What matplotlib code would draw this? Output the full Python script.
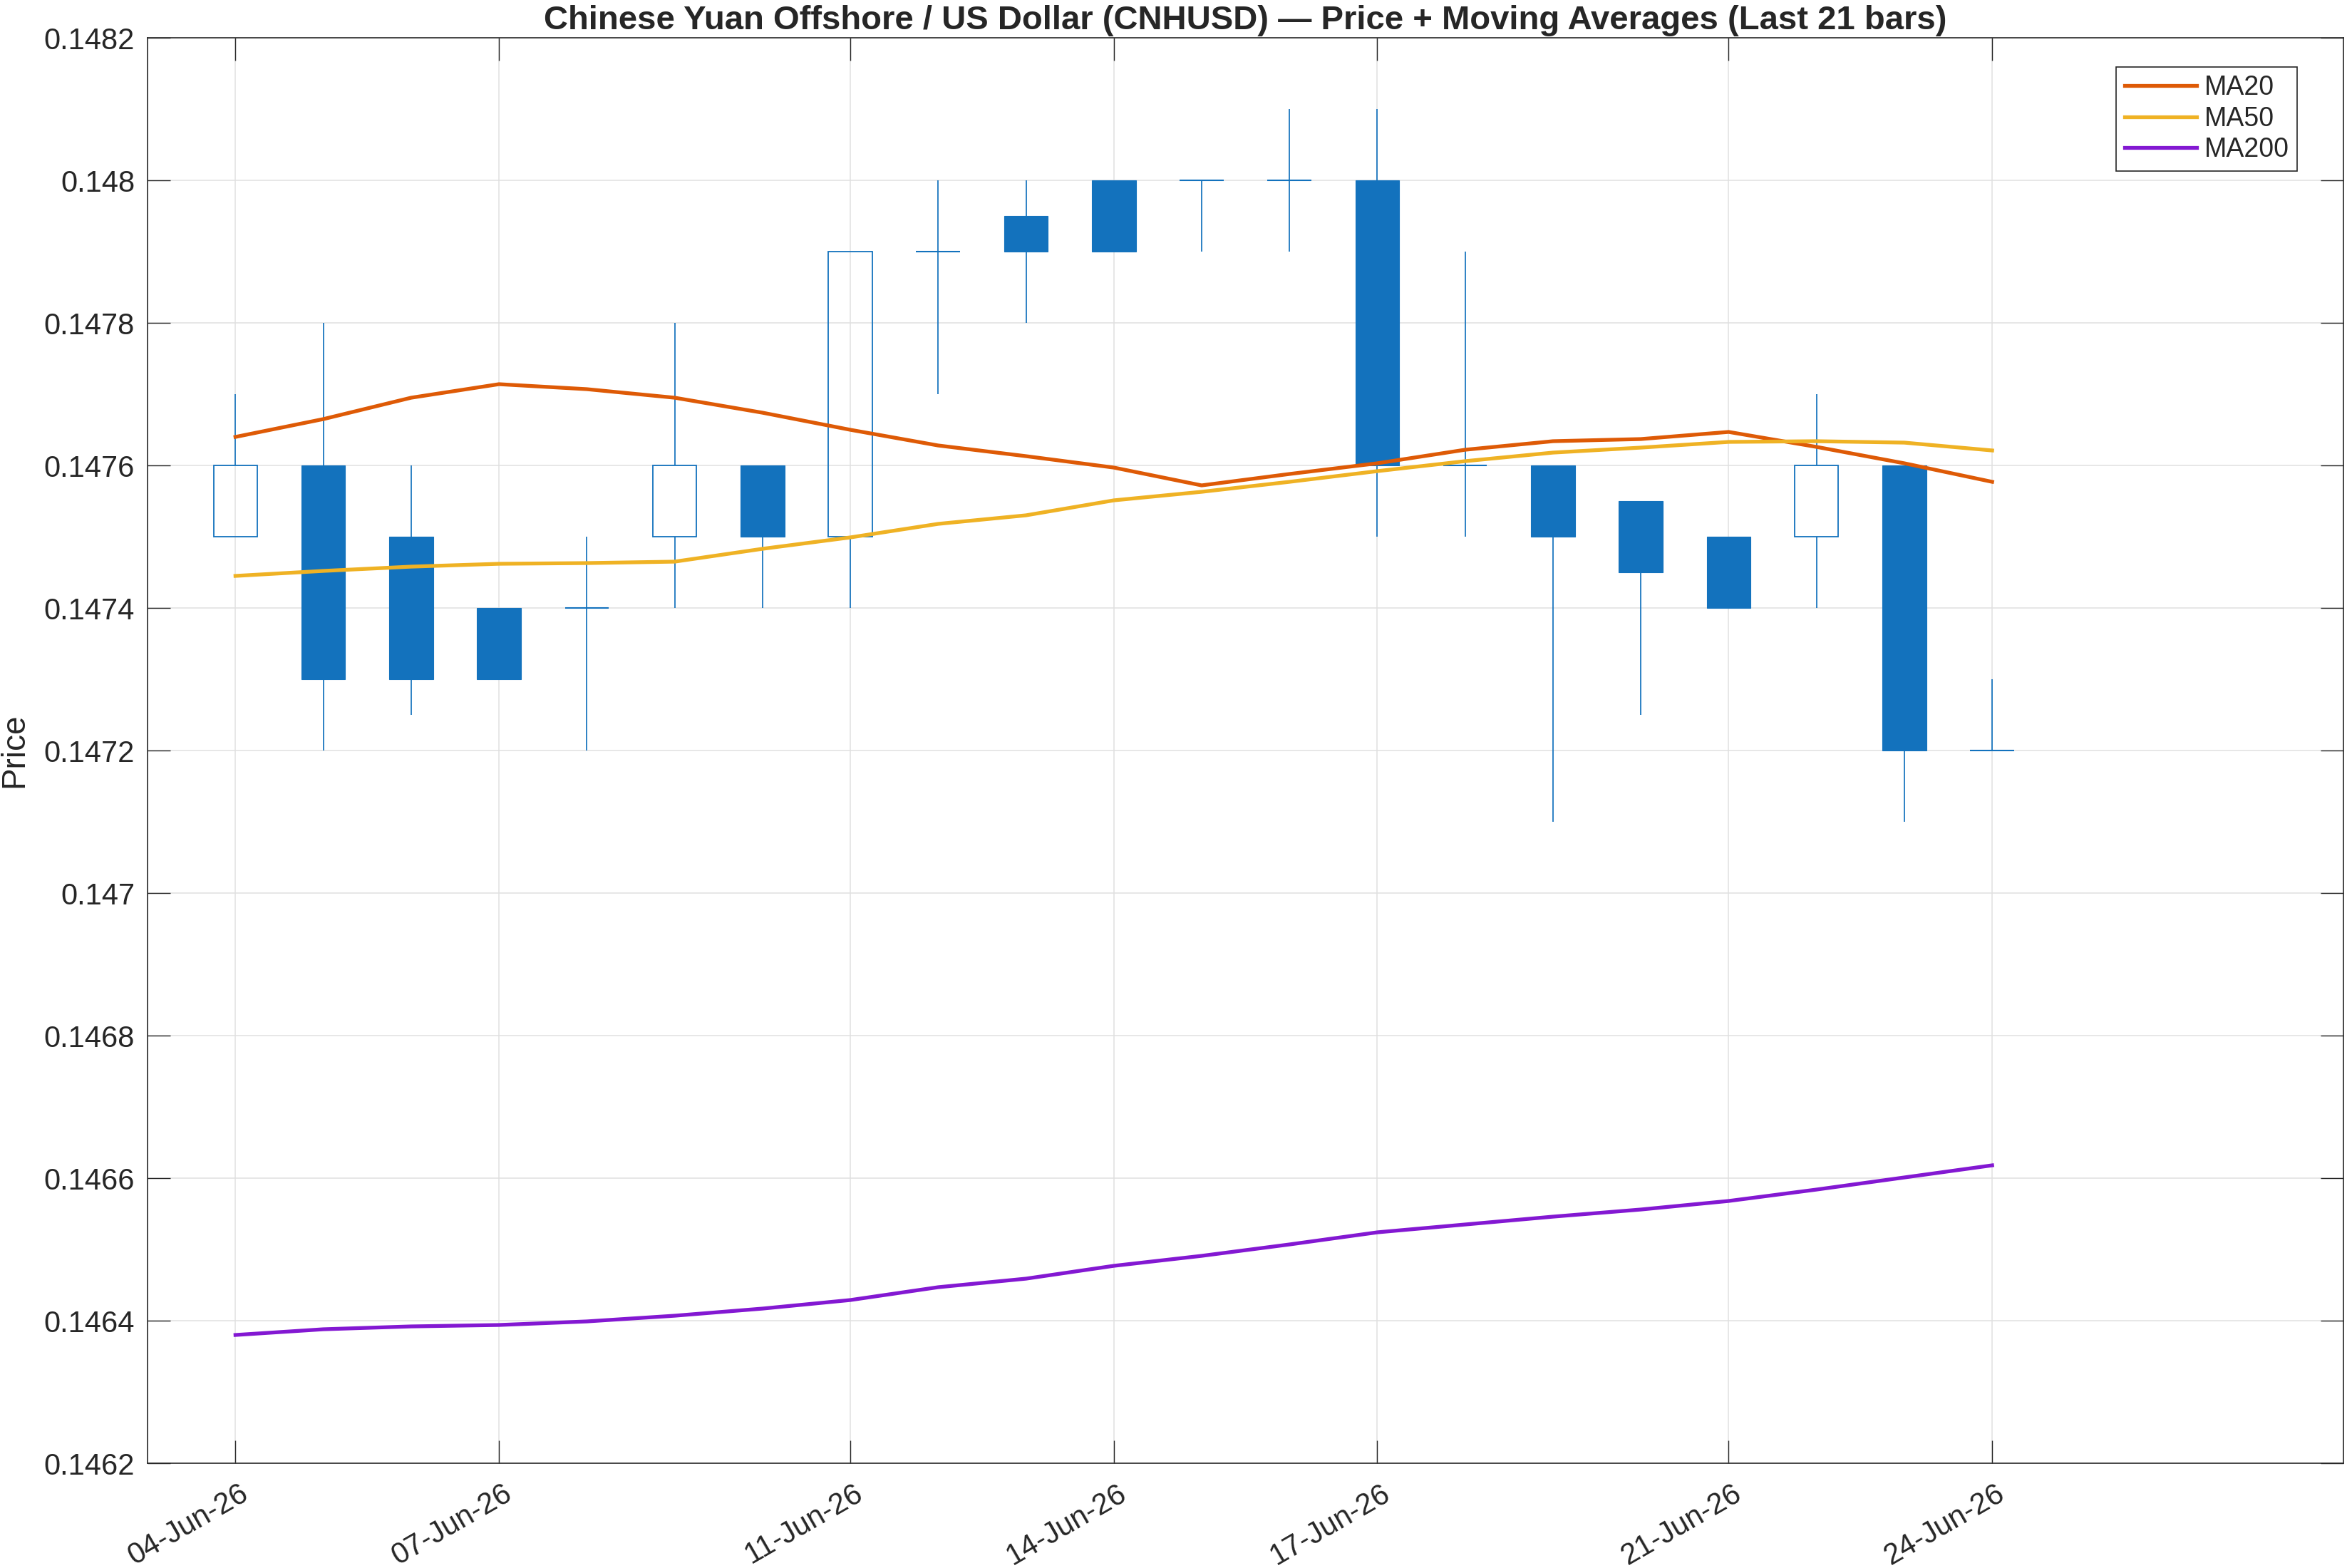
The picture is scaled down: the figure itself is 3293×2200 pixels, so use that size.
import numpy as np
import matplotlib
matplotlib.use("Agg")
import matplotlib.pyplot as plt
import matplotlib.dates as mdates
import matplotlib.transforms as mtransforms

# datos
fechas = ["2026-06-04", "2026-06-05", "2026-06-06", "2026-06-07", "2026-06-08",
          "2026-06-09", "2026-06-10", "2026-06-11", "2026-06-12", "2026-06-13",
          "2026-06-14", "2026-06-15", "2026-06-16", "2026-06-17", "2026-06-18",
          "2026-06-19", "2026-06-20", "2026-06-21", "2026-06-22", "2026-06-23",
          "2026-06-24"]
apertura = [0.1475, 0.1476, 0.1475, 0.1474, 0.1474, 0.1475, 0.1476, 0.1475, 0.1479, 0.14795,
            0.1480, 0.1480, 0.1480, 0.1480, 0.1476, 0.1476, 0.14755, 0.1475, 0.1475, 0.1476,
            0.1472]
maximo = [0.1477, 0.1478, 0.1476, 0.1474, 0.1475, 0.1478, 0.1476, 0.1479, 0.1480, 0.1480,
          0.1480, 0.1480, 0.1481, 0.1481, 0.1479, 0.1476, 0.14755, 0.1475, 0.1477, 0.1476,
          0.1473]
minimo = [0.1475, 0.1472, 0.14725, 0.1473, 0.1472, 0.1474, 0.1474, 0.1474, 0.1477, 0.1478,
          0.1479, 0.1479, 0.1479, 0.1475, 0.1475, 0.1471, 0.14725, 0.1474, 0.1474, 0.1471,
          0.1472]
cierre = [0.1476, 0.1473, 0.1473, 0.1473, 0.1474, 0.1476, 0.1475, 0.1479, 0.1479, 0.1479,
          0.1479, 0.1480, 0.1480, 0.1476, 0.1476, 0.1475, 0.14745, 0.1474, 0.1476, 0.1472,
          0.1472]

ma20 = [0.147640, 0.147665, 0.147695, 0.147714, 0.147707, 0.147695, 0.147674, 0.147650,
        0.147628, 0.147613, 0.147597, 0.147572, 0.147588, 0.147603, 0.147622, 0.147634,
        0.147637, 0.147647, 0.147626, 0.147603, 0.147577]
ma50 = [0.147445, 0.147452, 0.147458, 0.147462, 0.147463, 0.147465, 0.147483, 0.147499,
        0.147518, 0.147530, 0.147551, 0.147563, 0.147577, 0.147592, 0.147606, 0.147618,
        0.147625, 0.147633, 0.147634, 0.147632, 0.147621]
ma200 = [0.146380, 0.146388, 0.146392, 0.146394, 0.146399, 0.146407, 0.146417, 0.146429,
         0.146447, 0.146459, 0.146477, 0.146491, 0.146507, 0.146524, 0.146535, 0.146546,
         0.146556, 0.146568, 0.146584, 0.146601, 0.146618]

fechas_ticks = ["2026-06-04", "2026-06-07", "2026-06-11", "2026-06-14",
                "2026-06-17", "2026-06-21", "2026-06-24"]
limites_x = ["2026-06-03", "2026-06-28"]
ticks_y = [0.1462, 0.1464, 0.1466, 0.1468, 0.147, 0.1472, 0.1474, 0.1476, 0.1478, 0.148, 0.1482]

titulo = "Chinese Yuan Offshore / US Dollar (CNHUSD) \u2014 Price + Moving Averages (Last 21 bars)"

plt.rcParams['font.family'] = ['Liberation Sans', 'DejaVu Sans']

AZUL = "#1372BD"
GRIS = "#262626"

fig = plt.figure(figsize=(32.93, 22), dpi=100)
ax = fig.add_axes([0.0629, 0.0668, 0.9356, 0.9091])

x = mdates.date2num(np.array(fechas, dtype="datetime64[D]"))
o = np.array(apertura)
h = np.array(maximo)
l = np.array(minimo)
c = np.array(cierre)
ancho = 0.5

cuerpo_sup = np.maximum(o, c)
cuerpo_inf = np.minimum(o, c)

# mechas (arriba y abajo del cuerpo)
ax.vlines(x, cuerpo_sup, h, color=AZUL, linewidth=1.25, zorder=2)
ax.vlines(x, l, cuerpo_inf, color=AZUL, linewidth=1.25, zorder=2)

bajista = c < o
alcista = c > o
doji = c == o
ax.bar(x[bajista], (o - c)[bajista], bottom=c[bajista], width=ancho,
       color=AZUL, edgecolor=AZUL, linewidth=0.8, zorder=3)
ax.bar(x[alcista], (c - o)[alcista], bottom=o[alcista], width=ancho,
       facecolor="none", edgecolor=AZUL, linewidth=1.3, zorder=3)
ax.hlines(c[doji], x[doji] - ancho / 2, x[doji] + ancho / 2, color=AZUL, linewidth=1.5, zorder=3)

# medias moviles
ax.plot(x, ma20, color="#DE5A06", linewidth=3.8, label="MA20", zorder=4)
ax.plot(x, ma50, color="#EFB224", linewidth=3.8, label="MA50", zorder=4)
ax.plot(x, ma200, color="#8318D2", linewidth=3.8, label="MA200", zorder=4)

ax.set_xlim(mdates.date2num(np.array(limites_x, dtype="datetime64[D]")))
ax.set_ylim(ticks_y[0], ticks_y[-1])
ax.set_yticks(ticks_y)
ax.set_yticklabels([("%.4f" % v).rstrip("0") for v in ticks_y])
ax.set_xticks(mdates.date2num(np.array(fechas_ticks, dtype="datetime64[D]")))
ax.xaxis.set_major_formatter(mdates.DateFormatter("%d-%b-%y"))

ax.grid(True, color="#E0E0E0", linewidth=1.1, zorder=0)
ax.set_axisbelow(True)

ax.tick_params(axis="both", direction="in", length=23, width=1.0, color=GRIS,
               labelsize=30, labelcolor=GRIS, top=True, right=True)
ax.tick_params(axis="y", pad=13)
ax.tick_params(axis="x", pad=16)
for sp in ax.spines.values():
    sp.set_color(GRIS)
    sp.set_linewidth(1.2)

desplaza = mtransforms.ScaledTranslation(0.05, 0, fig.dpi_scale_trans)
for lab in ax.get_xticklabels():
    lab.set_rotation(30)
    lab.set_ha("right")
    lab.set_va("top")
    lab.set_rotation_mode("anchor")
    lab.set_transform(lab.get_transform() + desplaza)

ax.set_title(titulo, fontsize=34, fontweight="bold", color=GRIS, pad=9)
ax.set_ylabel("Price", fontsize=33, color=GRIS)
ax.yaxis.set_label_coords(-0.0536, 0.5)

leg = ax.legend(loc="upper right", bbox_to_anchor=(0.979, 0.9795), borderaxespad=0,
                fontsize=27, frameon=True, fancybox=False, framealpha=1,
                handlelength=2.7, handletextpad=0.3, labelspacing=0.2, borderpad=0.3)
leg.get_frame().set_edgecolor(GRIS)
leg.get_frame().set_linewidth(1.2)
for t in leg.get_texts():
    t.set_color(GRIS)

fig.savefig("out.png", dpi=100)
